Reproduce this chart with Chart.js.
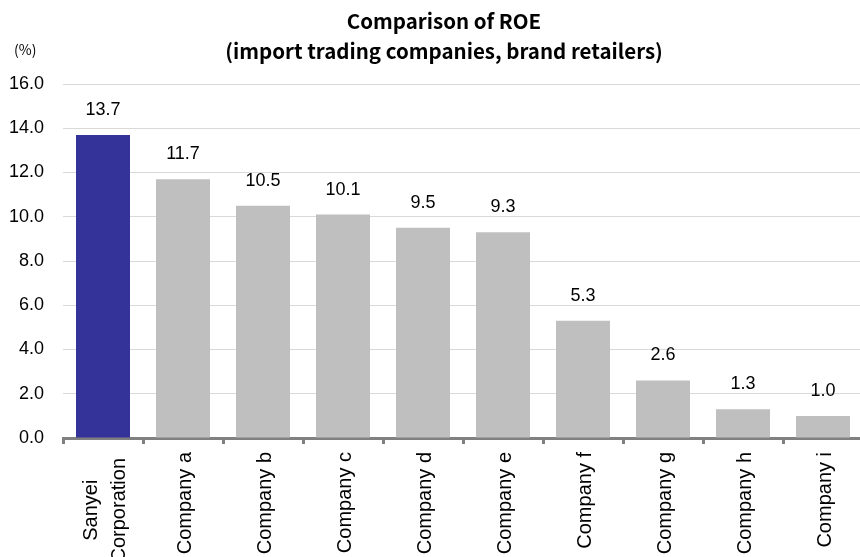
<!DOCTYPE html>
<html>
<head>
<meta charset="utf-8">
<script src="https://cdn.jsdelivr.net/npm/chart.js@4"></script>
<style>
  body { margin: 0; overflow: hidden; background: #fff; }
</style>
</head>
<body>
<canvas id="roeChart" width="880" height="566"></canvas>
<script>
// data
var companies = [['Sanyei', 'Corporation'], 'Company a', 'Company b', 'Company c', 'Company d',
                 'Company e', 'Company f', 'Company g', 'Company h', 'Company i'];
var roeValues = [13.7, 11.7, 10.5, 10.1, 9.5, 9.3, 5.3, 2.6, 1.3, 1.0];
var titleLines = ['Comparison of ROE', '(import trading companies, brand retailers)'];
var unitLabel = '(%)';

var barColors = roeValues.map(function (v, i) { return i === 0 ? '#333399' : '#bfbfbf'; });

/* title, unit label, values above bars and the rotated category labels */
var chartText = {
  id: 'chartText',
  afterDraw: function (chart) {
    var ctx = chart.ctx;
    var meta = chart.getDatasetMeta(0);
    var xScale = chart.scales.x;
    ctx.save();
    ctx.fillStyle = '#000';
    ctx.textBaseline = 'middle';

    // title
    ctx.textAlign = 'center';
    ctx.font = 'bold 20.5px "Noto Sans CJK JP", sans-serif';
    titleLines.forEach(function (line, i) {
      ctx.fillText(line, 444, 21 + i * 30);
    });

    // unit
    ctx.textAlign = 'left';
    ctx.font = '14px "Noto Sans CJK JP", sans-serif';
    ctx.fillText(unitLabel, 14, 50);

    // values
    ctx.textAlign = 'center';
    ctx.font = '18px "Liberation Sans", Arial, sans-serif';
    meta.data.forEach(function (bar, i) {
      ctx.fillText(roeValues[i].toFixed(1), bar.x, bar.y - 25);
    });

    // category labels, rotated
    ctx.font = '20px "Liberation Sans", Arial, sans-serif';
    var lh = 28;
    companies.forEach(function (lab, i) {
      var x = xScale.getPixelForValue(i) + 2;
      var top = xScale.top + 14;
      if (!Array.isArray(lab)) {
        ctx.save();
        ctx.translate(x, top);
        ctx.rotate(-Math.PI / 2);
        ctx.textAlign = 'right';
        ctx.fillText(lab, 0, 0);
        ctx.restore();
        return;
      }
      // multi-line: lines centred on each other
      var maxW = Math.max.apply(null, lab.map(function (s) { return ctx.measureText(s).width; }));
      lab.forEach(function (line, j) {
        var off = (j - (lab.length - 1) / 2) * lh;
        ctx.save();
        ctx.translate(x + off, top + 6 + maxW / 2);
        ctx.rotate(-Math.PI / 2);
        ctx.textAlign = 'center';
        ctx.fillText(line, 0, 0);
        ctx.restore();
      });
    });
    ctx.restore();
  }
};

var roeChart = new Chart(document.getElementById('roeChart'), {
  type: 'bar',
  data: {
    labels: companies,
    datasets: [{
      label: 'ROE',
      data: roeValues,
      backgroundColor: barColors,
      barPercentage: 0.675,
      categoryPercentage: 1.0
    }]
  },
  options: {
    responsive: false,
    animation: false,
    layout: { padding: { left: 0, right: 17, top: 84, bottom: 0 } },
    plugins: {
      legend: { display: false },
      tooltip: { enabled: false },
      title: { display: false }
    },
    scales: {
      x: {
        afterFit: function (scale) { scale.height = 128; },
        grid: { display: true, drawOnChartArea: false, drawTicks: true, tickLength: 6, color: '#808080', lineWidth: 3, offset: true },
        border: { display: true, color: '#808080', width: 3 },
        ticks: { display: false, autoSkip: false }
      },
      y: {
        min: 0, max: 16,
        afterFit: function (scale) { scale.width = 63; },
        grid: { color: '#d9d9d9', lineWidth: 1, drawTicks: false },
        border: { display: false },
        ticks: {
          stepSize: 2, padding: 19, color: '#000',
          font: { family: '"Liberation Sans", Arial, sans-serif', size: 18 },
          callback: function (v) { return v.toFixed(1); }
        }
      }
    }
  },
  plugins: [chartText]
});
</script>
</body>
</html>
